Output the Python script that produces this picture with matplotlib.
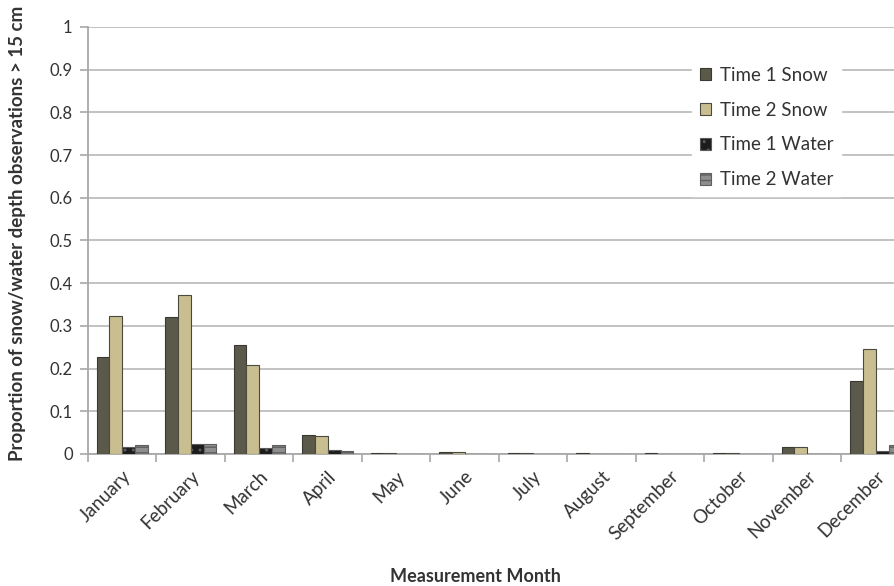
import matplotlib
matplotlib.use("Agg")
import matplotlib.pyplot as plt
import numpy as np

months = ["January", "February", "March", "April", "May", "June", "July",
          "August", "September", "October", "November", "December"]
series_names = ["Time 1 Snow", "Time 2 Snow", "Time 1 Water", "Time 2 Water"]
time1_snow = [0.227, 0.320, 0.255, 0.045, 0.003, 0.005, 0.003, 0.002, 0.002, 0.003, 0.017, 0.172]
time2_snow = [0.323, 0.373, 0.209, 0.041, 0.003, 0.004, 0.003, 0.000, 0.000, 0.003, 0.017, 0.245]
time1_water = [0.016, 0.024, 0.014, 0.009, 0.000, 0.000, 0.000, 0.000, 0.000, 0.000, 0.000, 0.006]
time2_water = [0.020, 0.024, 0.020, 0.008, 0.000, 0.000, 0.000, 0.000, 0.000, 0.000, 0.000, 0.020]
y_ticks = [0, 0.1, 0.2, 0.3, 0.4, 0.5, 0.6, 0.7, 0.8, 0.9, 1]
y_ticklabels = ["0", "0.1", "0.2", "0.3", "0.4", "0.5", "0.6", "0.7", "0.8", "0.9", "1"]

plt.rcParams["font.family"] = ["Lato", "DejaVu Sans"]

fig = plt.figure(figsize=(8.94, 5.86), dpi=100)
# plot area runs past the right edge of the figure
ax = fig.add_axes([0.0984, 0.2253, 0.9195, 0.7287])

styles = [
    dict(color="#5b5949", edgecolor="#3a3a32", hatch=None),
    dict(color="#c9be8f", edgecolor="#4a4a40", hatch=None),
    dict(color="#1c1c1c", edgecolor="#5a5a5a", hatch=".."),
    dict(color="#8e8e8e", edgecolor="#5f5f5f", hatch="---"),
]
data = [time1_snow, time2_snow, time1_water, time2_water]

x = np.arange(len(months))
w = 0.1875
offsets = (np.arange(4) - 1.5) * w
handles = []
for vals, off, st, name in zip(data, offsets, styles, series_names):
    b = ax.bar(x + off, vals, width=w, color=st["color"], edgecolor=st["edgecolor"],
               linewidth=0.8, hatch=st["hatch"], label=name, zorder=3)
    handles.append(b)

ax.set_xlim(-0.5, len(months) - 0.5)
ax.set_ylim(0, 1)
ax.set_yticks(y_ticks)
ax.set_yticklabels(y_ticklabels, fontsize=12, color="#333333")
ax.yaxis.grid(True, color="#bdbdbd", linewidth=1.3, zorder=0)
ax.set_axisbelow(True)

ax.set_xticks(x)
ax.set_xticklabels(months, rotation=45, ha="right", rotation_mode="anchor",
                   fontsize=13.5, color="#333333")
ax.tick_params(axis="x", length=0, pad=10)
ax.set_xticks(np.arange(len(months) + 1) - 0.5, minor=True)
ax.tick_params(axis="x", which="minor", length=6, color="#a8a8a8", width=1.2)
ax.tick_params(axis="y", length=6, color="#a8a8a8", width=1.2, pad=5)

for side in ["top", "right"]:
    ax.spines[side].set_visible(False)
for side in ["left", "bottom"]:
    ax.spines[side].set_color("#a8a8a8")
    ax.spines[side].set_linewidth(1.3)

fig.text(475 / 894, 1 - 577 / 586, "Measurement Month", fontsize=13, fontweight="bold",
         color="#333333", ha="center", va="center")
fig.text(18 / 894, 1 - 233 / 586, "Proportion of snow/water depth observations > 15 cm",
         fontsize=13.5, fontweight="bold", color="#333333", ha="center", va="center",
         rotation=90)

leg = ax.legend(handles=handles, labels=series_names, loc="upper left",
                bbox_to_anchor=(683 / 894, 1 - 50 / 586), bbox_transform=fig.transFigure,
                fontsize=13.5, handlelength=0.6, handleheight=0.6, handletextpad=0.45,
                labelspacing=0.95, borderpad=0.4, frameon=True, fancybox=False)
leg.get_frame().set_edgecolor("white")
leg.get_frame().set_facecolor("white")
leg.get_frame().set_alpha(1)
for t in leg.get_texts():
    t.set_color("#333333")

fig.savefig("out.png", dpi=100)
